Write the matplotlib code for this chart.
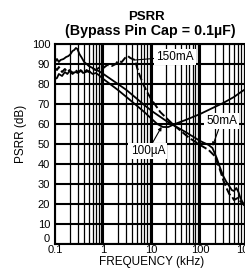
import numpy as np
import matplotlib
matplotlib.use('Agg')
import matplotlib.pyplot as plt
from matplotlib.ticker import LogLocator, NullFormatter

plt.rcParams['font.family'] = ['Liberation Sans', 'DejaVu Sans']

# PSRR vs frequency, bypass cap 0.1uF
f_50mA = [0.1, 0.11, 0.12, 0.13, 0.15, 0.17, 0.19, 0.21, 0.23, 0.25, 0.27, 0.29, 0.32, 0.36, 0.4,
          0.45, 0.5, 0.6, 0.7, 0.8, 1, 2, 3, 5, 7, 10, 20, 30, 50, 100, 150, 180, 220, 260, 300,
          350, 400, 450, 500, 560, 620, 680, 750, 850, 1000]
psrr_50mA = [91, 92.5, 91, 92, 92.5, 93.5, 94, 95, 96.5, 97, 98, 97.5, 95, 93, 91,
             90, 89, 88, 87, 86.5, 85, 80, 77, 72.5, 69.5, 66.5, 61.5, 59, 56, 51.5, 49.5, 48, 43, 38, 34,
             31, 29, 27, 26.5, 28, 26, 23, 21, 19, 17]

f_100uA = [0.1, 0.11, 0.12, 0.14, 0.16, 0.18, 0.2, 0.23, 0.26, 0.3, 0.34, 0.38, 0.43, 0.5, 0.6,
           0.7, 0.8, 1, 2, 3, 5, 7, 10, 13, 17, 22, 30, 50, 100, 200, 300, 500, 700, 1000]
psrr_100uA = [82.5, 83, 85, 84, 86, 85, 86.5, 85, 86, 85.5, 87, 85.5, 86, 86.5, 85,
              85.5, 84.5, 82.5, 77, 73.5, 69, 66, 62.5, 60, 58.5, 58.5, 60, 62, 65, 68.5, 70.5, 73.5, 76, 78.5]

f_150mA = [0.1, 0.11, 0.12, 0.14, 0.16, 0.18, 0.2, 0.23, 0.26, 0.3, 0.35, 0.4, 0.45, 0.5, 0.6, 0.7,
           0.85, 1, 1.2, 1.5, 1.8, 2, 2.4, 2.8, 3.2, 3.6, 4, 4.5, 5, 5.5, 6.5, 8, 10, 15, 20, 27, 40,
           60, 100, 150, 200, 250, 300, 350, 400, 450, 500, 600, 700, 850, 1000]
psrr_150mA = [88, 87, 88.5, 86, 87.5, 86, 87, 85.5, 87, 86, 86.5, 85.5, 87, 86, 87.5, 87,
              88.5, 88, 89.5, 89, 90, 91.5, 91, 93, 94, 93, 92.5, 92, 88, 85, 80.5, 76, 72, 66, 63, 60, 56.5,
              53, 49.5, 47, 44, 38, 32, 28, 25, 24, 22, 23, 21, 19, 18]

fig = plt.figure(figsize=(2.45, 2.68), dpi=100)
ax = fig.add_axes([55/245, 24/268, 193.5/245, 200/268])

ax.semilogx(f_50mA, psrr_50mA, color='black', lw=1.3, zorder=3)
ax.semilogx(f_100uA, psrr_100uA, color='black', lw=1.3, zorder=3)
ax.semilogx(f_150mA, psrr_150mA, color='black', lw=1.4, ls=(0, (4, 1.5)), zorder=3)

ax.set_xlim(0.1, 1000)
ax.set_ylim(0, 100)
ax.set_xticks([0.1, 1, 10, 100, 1000])
ax.set_xticklabels(['0.1', '1', '10', '100', '1000'])
ax.xaxis.set_minor_locator(LogLocator(base=10, subs=np.arange(2, 10)))
ax.xaxis.set_minor_formatter(NullFormatter())
ax.set_yticks(np.arange(0, 101, 10))
ax.set_yticklabels([str(v) for v in range(0, 101, 10)])
ax.get_yticklabels()[0].set_verticalalignment('bottom')

ax.grid(which='major', color='black', lw=1.5)
ax.grid(which='minor', axis='x', color='black', lw=0.9)
ax.tick_params(which='both', length=0, labelsize=8, colors='black')
ax.tick_params(axis='x', pad=1)
ax.tick_params(axis='y', pad=3.5)
for s in ax.spines.values():
    s.set_linewidth(1.5)

ax.set_xlabel('FREQUENCY (kHz)', fontsize=8.5, labelpad=0.5)
fig.text(21/245, 0.5, 'PSRR (dB)', rotation=90, fontsize=8.5, ha='center', va='center')

fig.text(146/245, 1 - 16.5/268, 'PSRR', fontsize=9.5, fontweight='bold', ha='center', va='center')
fig.text(150/245, 1 - 31/268, '(Bypass Pin Cap = 0.1µF)', fontsize=10.3, fontweight='bold',
         ha='center', va='center')

box = dict(facecolor='white', edgecolor='none', pad=1.5)
ax.annotate('150mA', xy=(4.5, 92), xytext=(30, 93.6), fontsize=8.5, ha='center', va='center',
            bbox=box, arrowprops=dict(arrowstyle='-', color='black', lw=0.8, shrinkA=0, shrinkB=0), zorder=5)
ax.annotate('50mA', xy=(181, 49), xytext=(277, 61.4), fontsize=8.5, ha='center', va='center',
            bbox=box, arrowprops=dict(arrowstyle='-|>', color='black', lw=0.8, mutation_scale=5,
                                      shrinkA=0, shrinkB=0), zorder=5)
ax.annotate('100µA', xy=(16, 58.6), xytext=(8.3, 46.5), fontsize=8.5, ha='center', va='center',
            bbox=box, arrowprops=dict(arrowstyle='-|>', color='black', lw=0.8, mutation_scale=5,
                                      shrinkA=0, shrinkB=0), zorder=5)

fig.savefig('out.png', dpi=100)
